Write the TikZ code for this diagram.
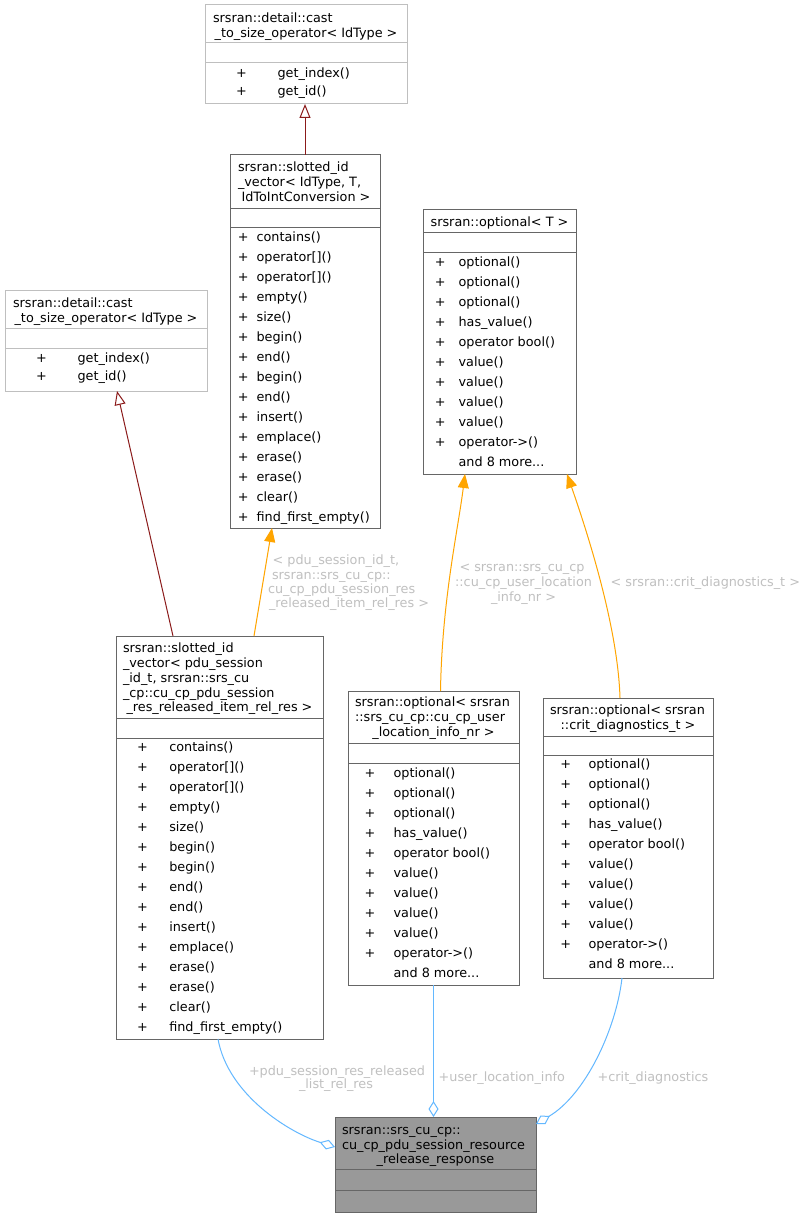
\documentclass[tikz,border=0pt]{standalone}
\usepackage{fontspec}
\setmainfont{DejaVu Sans}
\usetikzlibrary{arrows.meta}
\definecolor{docborder}{HTML}{666666}
\definecolor{undocborder}{HTML}{BFBFBF}
\definecolor{inhred}{HTML}{8B1A1A}
\definecolor{tplorange}{HTML}{FFA500}
\definecolor{useblue}{HTML}{63B8FF}
\definecolor{lblgray}{HTML}{C0C0C0}
\definecolor{mainfill}{HTML}{999999}
\tikzset{
  txt/.style={inner sep=0pt, outer sep=0pt, anchor=base west, font=\fontsize{12.8}{15}\selectfont},
  ctxt/.style={txt, anchor=base},
  lbl/.style={txt, text=lblgray},
  clbl/.style={lbl, anchor=base},
  boxshape/.style={anchor=north west, inner sep=0pt, outer sep=0pt, line width=1pt},
  docbox/.style={boxshape, draw=docborder, fill=white},
  undocbox/.style={boxshape, draw=undocborder, fill=white},
  mainbox/.style={boxshape, draw=docborder, fill=mainfill},
  docsep/.style={draw=docborder, line width=1pt},
  undocsep/.style={draw=undocborder, line width=1pt},
  inh/.style={draw=inhred, line width=1pt, -{Triangle[length=14pt, width=11pt, fill=white]}},
  tpl/.style={draw=tplorange, line width=1pt, -{Triangle[length=14pt, width=11pt, fill=tplorange]}},
  use/.style={draw=useblue, line width=1pt, -{Diamond[length=16pt, width=10pt, fill=white]}},
}
\newcommand\members[6]{% prefix, plus x, name x, first baseline, pitch, list
  \foreach \m [count=\i from 0] in {#6} {
    \node[txt] (#1p\i) at (#2, #4+#5*\i) {+};
    \node[txt] (#1m\i) at (#3, #4+#5*\i) {\m};
  }}
\begin{document}
\begin{tikzpicture}[x=1pt, y=-1pt]
\useasboundingbox (0,0) rectangle (810,1217);
\fill[white] (0,0) rectangle (810,1217);

% ---------- Box A: cast_to_size_operator (top)
\node[undocbox, minimum width=202pt, minimum height=99pt] (A) at (205,5) {};
\draw[undocsep] (205,43) -- (407,43);
\draw[undocsep] (205,63) -- (407,63);
\node[txt] (At1) at (213,22.5) {srsran::detail::cast};
\node[ctxt] (At2) at (306,37.5) {\_to\_size\_operator< IdType >};
\members{A}{236}{277.5}{77.2}{18}{get\_index(),get\_id()}

% ---------- Box C: cast_to_size_operator (left)
\node[undocbox, minimum width=202pt, minimum height=101pt] (C) at (5,290) {};
\draw[undocsep] (5,328) -- (207,328);
\draw[undocsep] (5,348) -- (207,348);
\node[txt] (Ct1) at (13,307.5) {srsran::detail::cast};
\node[ctxt] (Ct2) at (106,322.5) {\_to\_size\_operator< IdType >};
\members{C}{36}{77.5}{362.2}{18}{get\_index(),get\_id()}

% ---------- Box B: slotted_id_vector template
\node[docbox, minimum width=150pt, minimum height=373pt] (B) at (230,155) {};
\draw[docsep] (230,208) -- (380,208);
\draw[docsep] (230,227) -- (380,227);
\node[txt] (Bt1) at (238,171.5) {srsran::slotted\_id};
\node[txt] (Bt2) at (238,186.5) {\_vector< IdType, T,};
\node[ctxt] (Bt3) at (306,201.5) {IdToIntConversion >};
\members{B}{237.8}{256.6}{241.5}{20}{contains(),operator[](),operator[](),empty(),size(),begin(),end(),begin(),end(),insert(),emplace(),erase(),erase(),clear(),find\_first\_empty()}

% ---------- Box D: optional<T>
\node[docbox, minimum width=153pt, minimum height=265pt] (D) at (423,209) {};
\draw[docsep] (423,232) -- (576,232);
\draw[docsep] (423,252) -- (576,252);
\node[ctxt] (Dt1) at (499.5,226.5) {srsran::optional< T >};
\members{D}{434.8}{458.6}{266.5}{20}{optional(),optional(),optional(),has\_value(),operator bool(),value(),value(),value(),value(),operator->()}
\node[txt] (Dmore) at (458.6,466.5) {and 8 more...};

% ---------- Box E: slotted_id_vector<pdu...>
\node[docbox, minimum width=207pt, minimum height=403pt] (E) at (116,636) {};
\draw[docsep] (116,718) -- (323,718);
\draw[docsep] (116,738) -- (323,738);
\node[txt] (Et1) at (123,652.8) {srsran::slotted\_id};
\node[txt] (Et2) at (123,667.6) {\_vector< pdu\_session};
\node[txt] (Et3) at (123,682.3) {\_id\_t, srsran::srs\_cu};
\node[txt] (Et4) at (123,697.0) {\_cp::cu\_cp\_pdu\_session};
\node[ctxt] (Et5) at (219.5,711.5) {\_res\_released\_item\_rel\_res >};
\members{E}{137.1}{169.3}{751.2}{20}{contains(),operator[](),operator[](),empty(),size(),begin(),begin(),end(),end(),insert(),emplace(),erase(),erase(),clear(),find\_first\_empty()}

% ---------- Box F: optional<cu_cp_user_location_info_nr>
\node[docbox, minimum width=171pt, minimum height=294pt] (F) at (348,691) {};
\draw[docsep] (348,743) -- (519,743);
\draw[docsep] (348,763) -- (519,763);
\node[txt] (Ft1) at (355,706.8) {srsran::optional< srsran};
\node[txt] (Ft2) at (355,721.8) {::srs\_cu\_cp::cu\_cp\_user};
\node[ctxt] (Ft3) at (433.5,736.8) {\_location\_info\_nr >};
\members{F}{364.6}{393.6}{777.2}{20}{optional(),optional(),optional(),has\_value(),operator bool(),value(),value(),value(),value(),operator->()}
\node[txt] (Fmore) at (393.6,977.2) {and 8 more...};

% ---------- Box G: optional<crit_diagnostics_t>
\node[docbox, minimum width=170pt, minimum height=280pt] (G) at (543,698) {};
\draw[docsep] (543,736) -- (713,736);
\draw[docsep] (543,755) -- (713,755);
\node[txt] (Gt1) at (550,714.5) {srsran::optional< srsran};
\node[ctxt] (Gt2) at (628,729.2) {::crit\_diagnostics\_t >};
\members{G}{560.4}{588.6}{768.8}{20}{optional(),optional(),optional(),has\_value(),operator bool(),value(),value(),value(),value(),operator->()}
\node[txt] (Gmore) at (588.6,968.8) {and 8 more...};

% ---------- Box H: main class
\node[mainbox, minimum width=201pt, minimum height=95pt] (H) at (335,1117) {};
\draw[docsep] (335,1169) -- (536,1169);
\draw[docsep] (335,1190) -- (536,1190);
\node[txt] (Ht1) at (342,1134.5) {srsran::srs\_cu\_cp::};
\node[txt] (Ht2) at (342,1149.5) {cu\_cp\_pdu\_session\_resource};
\node[ctxt] (Ht3) at (435.5,1163) {\_release\_response};

% ---------- inheritance edges
\draw[inh] (B.north) -- (B.north |- A.south);
\draw[inh] ([xshift=57pt]E.north west) -- ([xshift=112pt]C.south west);

% ---------- template edges
\draw[tpl] ([xshift=138pt]E.north west) -- ([xshift=42pt]B.south west);
\draw[tpl] ([xshift=92.5pt]F.north west) .. controls (442,600) and (458,530) .. ([xshift=42pt]D.south west);
\draw[tpl] ([xshift=77pt]G.north west) .. controls (618,630) and (590,540) .. ([xshift=144pt]D.south west);

\node[lbl] (L1a) at (272.7,564.5) {< pdu\_session\_id\_t,};
\node[lbl] (L1b) at (272,579.5) {srsran::srs\_cu\_cp::};
\node[lbl] (L1c) at (268,593.5) {cu\_cp\_pdu\_session\_res};
\node[lbl] (L1d) at (269,607.5) {\_released\_item\_rel\_res >};

\node[clbl] (L2a) at (522,571.5) {< srsran::srs\_cu\_cp};
\node[clbl] (L2b) at (523.5,586.5) {::cu\_cp\_user\_location};
\node[clbl] (L2c) at (523.5,601.5) {\_info\_nr >};

\node[lbl] (L3) at (610.7,586.5) {< srsran::crit\_diagnostics\_t >};

% ---------- usage edges
\draw[use] ([xshift=102pt]E.south west) .. controls (228,1095) and (290,1133) .. ([yshift=-30pt]H.north west);
\draw[use] (F.south) -- (F.south |- H.north);
\draw[use] ([xshift=79pt]G.south west) .. controls (616,1030) and (585,1095) .. ([yshift=-7pt]H.north east);

\node[lbl] (L4a) at (249,1075.5) {+pdu\_session\_res\_released};
\node[clbl] (L4b) at (336,1088.8) {\_list\_rel\_res};
\node[lbl] (L5) at (438.7,1081.8) {+user\_location\_info};
\node[lbl] (L6) at (597.7,1081.8) {+crit\_diagnostics};
\end{tikzpicture}
\end{document}
